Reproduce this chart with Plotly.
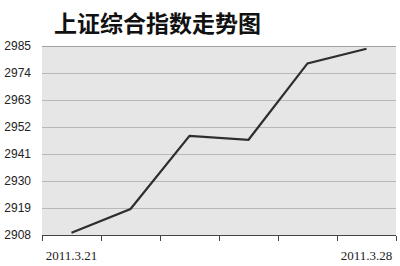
import plotly.graph_objects as go

dates = ["2011.3.21", "2011.3.22", "2011.3.23", "2011.3.24", "2011.3.25", "2011.3.28"]
values = [2908.9, 2918.6, 2948.4, 2946.8, 2977.9, 2983.9]
y_ticks = [2908, 2919, 2930, 2941, 2952, 2963, 2974, 2985]
x_ticktext = ["2011.3.21", "", "", "", "", "2011.3.28"]
title = "上证综合指数走势图"

fig = go.Figure()
fig.add_trace(go.Scatter(
    x=dates, y=values, mode="lines",
    line=dict(color="#2e2e2e", width=2.2),
    hoverinfo="skip", showlegend=False,
))

fig.update_layout(
    width=400, height=266,
    margin=dict(l=42, r=4, t=46, b=31),
    paper_bgcolor="white",
    plot_bgcolor="#e6e6e6",
    title=dict(text="<b>" + title + "</b>", x=54/400, xanchor="left", y=1 - 24/266, yanchor="middle",
               font=dict(family="Noto Sans CJK SC", size=23, color="#111")),
)
fig.update_xaxes(
    type="category", tickvals=dates, ticktext=x_ticktext, tickson="boundaries",
    ticks="outside", ticklen=5, tickcolor="#444", tickwidth=1,
    showline=True, linecolor="#444", linewidth=1,
    showgrid=False, range=[-0.5, 5.5], tickangle=0,
    tickfont=dict(family="Liberation Serif", size=13, color="#222"),
    ticklabelstandoff=8,
)
fig.update_yaxes(
    range=[2908, 2985], tickvals=y_ticks, ticktext=[str(v) for v in y_ticks],
    showgrid=True, gridcolor="#b8b8b8", gridwidth=1,
    zeroline=False, showline=False, ticks="",
    tickfont=dict(family="Liberation Sans", size=12, color="#222"),
    ticklabelstandoff=10,
)
fig.add_shape(type="line", xref="paper", yref="y", x0=0, x1=1, y0=2985, y1=2985,
              line=dict(color="#888", width=1.5))

fig.write_html("out.html")
